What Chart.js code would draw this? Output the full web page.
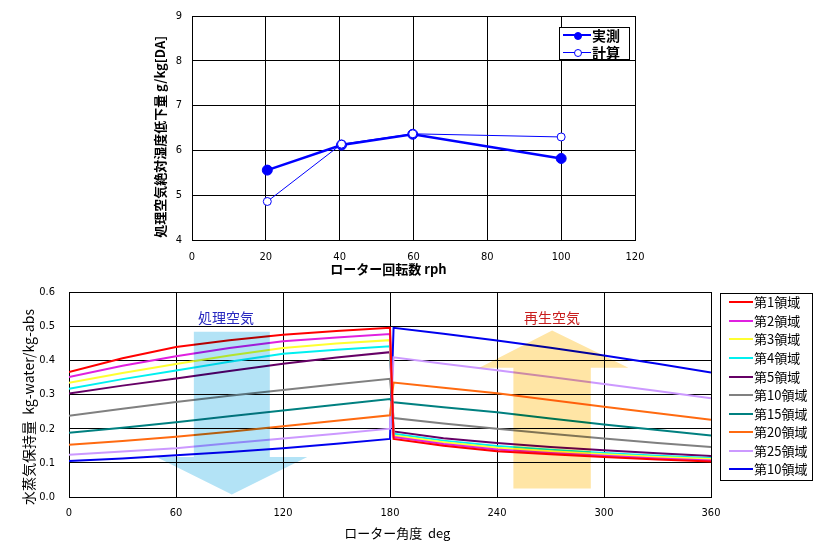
<!DOCTYPE html>
<html><head><meta charset="utf-8">
<script src="https://cdn.jsdelivr.net/npm/chart.js@4"></script>
<style>
body{margin:0;background:#fff;width:838px;height:550px;overflow:hidden;position:relative;font-family:"Noto Sans CJK JP",sans-serif}
canvas{position:absolute;left:0}
#c1{top:0}
#c2{top:285px}
.leg{position:absolute;border:1px solid #000;background:#fff;box-sizing:border-box}
.row{position:absolute;left:0;height:18px;line-height:18px;white-space:nowrap;color:#000}
.sw{position:absolute;top:50%}
.dot{position:absolute;border-radius:50%;box-sizing:border-box}
.lbl{position:absolute;font-size:14px;line-height:18px;white-space:nowrap;transform:translate(-50%,-50%)}
</style>
</head><body>
<canvas id="c1" width="838" height="285"></canvas>
<canvas id="c2" width="838" height="265"></canvas>
<div class="leg" id="leg1" style="left:559px;top:27px;width:71px;height:33px"></div>
<div class="leg" id="leg2" style="left:720px;top:293px;width:93px;height:188px"></div>
<div class="lbl" style="left:226px;top:317px;color:#2828c0">処理空気</div>
<div class="lbl" style="left:552px;top:317px;color:#c81e1e">再生空気</div>
<script>
// ---------- Top chart data ----------
const rph = [20.4, 40.5, 59.8, 100];
const measured = [5.56, 6.12, 6.36, 5.82];
const calculated = [4.86, 6.14, 6.37, 6.30];
const rphTicks = [0, 20, 40, 60, 80, 100, 120];
const dropTicks = [4, 5, 6, 7, 8, 9];
const topNames = ['実測', '計算'];

// ---------- Bottom chart data ----------
const angles = [0, 30, 60, 90, 120, 150, 180, 182, 210, 240, 270, 300, 330, 360];
const zone1  = [0.366,0.406,0.439,0.459,0.475,0.486,0.495, 0.170,0.150,0.134,0.125,0.117,0.110,0.104];
const zone2  = [0.351,0.384,0.412,0.436,0.456,0.467,0.477, 0.176,0.155,0.139,0.129,0.121,0.113,0.107];
const zone3  = [0.334,0.363,0.389,0.414,0.436,0.449,0.459, 0.180,0.160,0.144,0.134,0.125,0.117,0.111];
const zone4  = [0.317,0.345,0.370,0.396,0.419,0.431,0.441, 0.185,0.165,0.149,0.138,0.129,0.121,0.114];
const zone5  = [0.303,0.326,0.347,0.369,0.390,0.408,0.424, 0.192,0.172,0.158,0.146,0.137,0.128,0.120];
const zone10 = [0.238,0.258,0.278,0.296,0.313,0.330,0.346, 0.231,0.215,0.200,0.185,0.171,0.158,0.146];
const zone15 = [0.188,0.203,0.219,0.236,0.253,0.270,0.287, 0.277,0.263,0.248,0.230,0.212,0.196,0.180];
const zone20 = [0.153,0.164,0.176,0.191,0.207,0.223,0.239, 0.335,0.320,0.304,0.284,0.264,0.245,0.226];
const zone25 = [0.124,0.133,0.143,0.157,0.171,0.185,0.200, 0.409,0.390,0.371,0.351,0.331,0.310,0.289];
const zone10b= [0.105,0.113,0.122,0.132,0.143,0.156,0.170, 0.495,0.478,0.458,0.437,0.414,0.390,0.364];
const zoneNames = ['第1領域','第2領域','第3領域','第4領域','第5領域','第10領域','第15領域','第20領域','第25領域','第10領域'];
const zoneSeries = [zone1, zone2, zone3, zone4, zone5, zone10, zone15, zone20, zone25, zone10b];
const angleTicks = [0, 60, 120, 180, 240, 300, 360];
const holdTicks = [0, 0.1, 0.2, 0.3, 0.4, 0.5, 0.6];

// ---------- styles ----------
const zoneColors = ['#ff0000','#e020e0','#ffff30','#00f0f0','#660066','#808080','#008080','#ff6a10','#cc99ff','#0000ee'];
const tickFont = {family:'"Liberation Sans Narrow","DejaVu Sans Condensed","Liberation Sans",sans-serif', size:11};
const jp = '"Noto Sans CJK JP",sans-serif';
const blue = '#0000ff';
const clear = 'rgba(0,0,0,0)';

function fixTicks(arr){ return s => { s.ticks = arr.map(v => ({value:v})); }; }

Chart.defaults.color = '#000';

// ---------- Top chart ----------
new Chart(document.getElementById('c1'), {
  type: 'scatter',
  data: {
    datasets: [
      {label: topNames[0], data: rph.map((x,i)=>({x, y: measured[i]})), showLine:true,
       borderColor: blue, borderWidth: 2.5, pointRadius: 5, pointBackgroundColor: blue,
       pointBorderColor: blue, pointBorderWidth: 1, order: 2},
      {label: topNames[1], data: rph.map((x,i)=>({x, y: calculated[i]})), showLine:true,
       borderColor: blue, borderWidth: 1, pointRadius: 4, pointBackgroundColor: '#fff',
       pointBorderColor: blue, pointBorderWidth: 1, order: 1}
    ]
  },
  options: {
    responsive:false, animation:false,
    layout:{padding:{left:150, top:16, right:203, bottom:8}},
    plugins:{legend:{display:false}, tooltip:{enabled:false}},
    scales:{
      x:{type:'linear', min:0, max:120, afterBuildTicks: fixTicks(rphTicks),
         afterFit: s => { s.height = 37; },
         grid:{color:'#000', lineWidth:1, drawTicks:false}, border:{color:'#000', width:1},
         ticks:{font:tickFont, padding:11, maxRotation:0, color:'#000'},
         title:{display:true, text:'ローター回転数 rph                 ', font:{family:jp, size:13, weight:'bold'}, padding:0, color:'#000'}},
      y:{type:'linear', min:4, max:9, afterBuildTicks: fixTicks(dropTicks),
         afterFit: s => { s.width = 42; },
         grid:{color:'#000', lineWidth:1, drawTicks:true, tickLength:10, tickColor:clear}, border:{color:'#000', width:1},
         ticks:{font:tickFont, padding:0, color:'#000'},
         title:{display:true, text:'処理空気絶対湿度低下量 g/kg[DA]      ', font:{family:jp, size:13, weight:'bold'}, padding:{top:2,bottom:0}, color:'#000'}}
    }
  }
});

// ---------- Bottom chart ----------
const arrows = [
  {color:'#b3e3f6', shape:[[70,0.484],[112.6,0.484],[112.6,0.117],[133.6,0.117],[91.3,0.007],[49,0.117],[70,0.117]]},
  {color:'#ffe5a5', shape:[[249.2,0.025],[292.6,0.025],[292.6,0.378],[313.7,0.378],[270.9,0.487],[230.1,0.378],[249.2,0.378]]}
];
const arrowPlugin = {
  id:'arrows',
  afterDatasetsDraw(chart){
    const {ctx, chartArea:a, scales:{x, y}} = chart;
    ctx.save();
    ctx.beginPath(); ctx.rect(a.left, a.top, a.width, a.height); ctx.clip();
    ctx.globalCompositeOperation = 'multiply';
    arrows.forEach(ar => {
      ctx.fillStyle = ar.color;
      ctx.beginPath();
      ar.shape.forEach(([ax, ay], i) => {
        const px = x.getPixelForValue(ax), py = y.getPixelForValue(ay);
        if (i) ctx.lineTo(px, py); else ctx.moveTo(px, py);
      });
      ctx.closePath(); ctx.fill();
    });
    ctx.restore();
  }
};

new Chart(document.getElementById('c2'), {
  type: 'scatter',
  data: {
    datasets: zoneSeries.map((vals, i) => ({
      label: zoneNames[i], data: angles.map((x, j) => ({x, y: vals[j]})), showLine:true,
      borderColor: zoneColors[i], backgroundColor: zoneColors[i], borderWidth: 2, pointRadius: 0,
      tension: 0
    }))
  },
  options: {
    responsive:false, animation:false,
    layout:{padding:{left:20, top:7, right:127, bottom:9}},
    plugins:{legend:{display:false}, tooltip:{enabled:false}},
    scales:{
      x:{type:'linear', min:0, max:360, afterBuildTicks: fixTicks(angleTicks),
         afterFit: s => { s.height = 44; },
         grid:{color:'#000', lineWidth:1, drawTicks:false}, border:{color:'#000', width:1},
         ticks:{font:tickFont, padding:10, maxRotation:0, color:'#000'},
         title:{display:true, text:'     ローター角度  deg', font:{family:jp, size:13}, padding:0, color:'#000'}},
      y:{type:'linear', min:0, max:0.6, afterBuildTicks: fixTicks(holdTicks),
         afterFit: s => { s.width = 49; },
         grid:{color:'#000', lineWidth:1, drawTicks:true, tickLength:14, tickColor:clear}, border:{color:'#000', width:1},
         ticks:{font:tickFont, padding:0, color:'#000', callback: v => Number(v).toFixed(1)},
         title:{display:true, text:'水蒸気保持量  kg-water/kg-abs        ', font:{family:jp, size:14}, padding:0, color:'#000'}}
    }
  },
  plugins:[arrowPlugin]
});

// ---------- Legends ----------
const leg1 = document.getElementById('leg1');
const topStyles = [{lw:2.5, r:3.5, fill:blue}, {lw:1, r:3.5, fill:'#fff'}];
topNames.forEach((n, i) => {
  const row = document.createElement('div');
  row.className = 'row';
  row.style.top = (i === 0 ? -2 : 15) + 'px';
  row.style.width = '69px';
  const st = topStyles[i];
  row.innerHTML = `<div class="sw" style="left:3px;width:28px;height:${st.lw}px;margin-top:${-st.lw/2}px;background:${blue}"></div>` +
    `<div class="dot" style="left:${17-st.r}px;top:${9-st.r}px;width:${2*st.r+1}px;height:${2*st.r+1}px;border:1px solid ${blue};background:${st.fill}"></div>` +
    `<span style="position:absolute;left:32px;font-size:14px;font-weight:bold">${n}</span>`;
  leg1.appendChild(row);
});
const leg2 = document.getElementById('leg2');
zoneNames.forEach((n, i) => {
  const row = document.createElement('div');
  row.className = 'row';
  row.style.top = (302.3 + i * 18.56 - 293 - 1 - 9) + 'px';
  row.style.width = '91px';
  row.innerHTML = `<div class="sw" style="left:8px;width:24px;height:2px;margin-top:-1px;background:${zoneColors[i]}"></div>` +
    `<span style="position:absolute;left:33px;font-size:13px">${n}</span>`;
  leg2.appendChild(row);
});
</script>
</body></html>
